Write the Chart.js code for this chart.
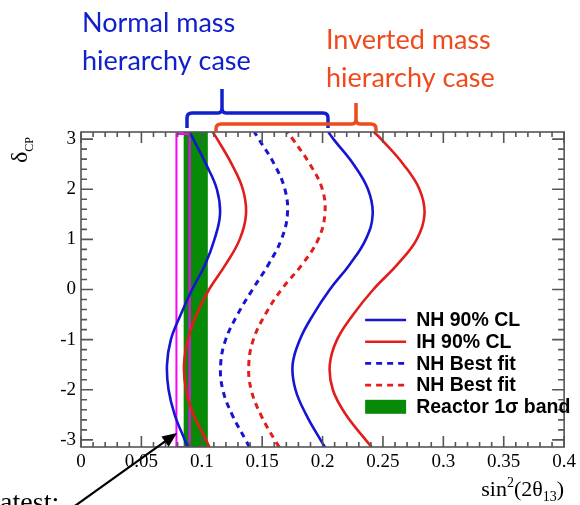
<!DOCTYPE html>
<html>
<head>
<meta charset="utf-8">
<script src="https://cdn.jsdelivr.net/npm/chart.js@4.4.0/dist/chart.umd.min.js"></script>
<style>
  body { margin: 0; background: #fff; }
  #wrap { position: relative; width: 580px; height: 505px; }
</style>
</head>
<body>
<div id="wrap"><canvas id="sensChart" width="580" height="505"></canvas></div>
<script>
const PI = Math.PI;

// delta_CP sample points (rad), bottom to top
const deltaCP = [-PI, -3, -2.5, -2, -1.5, -1, -0.5, 0, 0.5, 1, 1.5, 2, 2.5, 3, PI];

// sin^2(2theta13) at each deltaCP
const nhLower = [0.0885, 0.0859, 0.0776, 0.0725, 0.0712, 0.0744, 0.0826, 0.0920, 0.1028, 0.1105, 0.1151, 0.1125, 0.1035, 0.0930, 0.0899];
const nhUpper = [0.2020, 0.1983, 0.1865, 0.1776, 0.1752, 0.1812, 0.1923, 0.2060, 0.2225, 0.2358, 0.2415, 0.2376, 0.2256, 0.2090, 0.2048];
const ihLower = [0.1064, 0.1035, 0.0932, 0.0869, 0.0853, 0.0885, 0.0957, 0.1060, 0.1198, 0.1314, 0.1366, 0.1340, 0.1248, 0.1128, 0.1091];
const ihUpper = [0.2406, 0.2357, 0.2194, 0.2085, 0.2060, 0.2120, 0.2254, 0.2420, 0.2620, 0.2780, 0.2844, 0.2802, 0.2668, 0.2485, 0.2425];
const nhBest  = [0.1394, 0.1363, 0.1252, 0.1174, 0.1156, 0.1198, 0.1296, 0.1420, 0.1552, 0.1659, 0.1709, 0.1688, 0.1600, 0.1472, 0.1435];
const ihBest  = [0.1641, 0.1603, 0.1489, 0.1409, 0.1389, 0.1427, 0.1525, 0.1660, 0.1831, 0.1964, 0.2019, 0.1998, 0.1895, 0.1753, 0.1710];

// reactor 1 sigma band and the latest reactor value box (sin^2 range, deltaCP range)
const reactorBand = [0.085, 0.105];
const latestBox = [0.079, 0.090];
const latestDelta = [-PI, 3.1];

// axis ticks
const xTickValues = [0, 0.05, 0.1, 0.15, 0.2, 0.25, 0.3, 0.35, 0.4];
const xTickLabels = ['0', '0.05', '0.1', '0.15', '0.2', '0.25', '0.3', '0.35', '0.4'];
const yTickValues = [-3, -2, -1, 0, 1, 2, 3];
const yTickLabels = ['-3', '-2', '-1', '0', '1', '2', '3'];

const legendLabels = ['NH 90% CL', 'IH 90% CL', 'NH Best fit', 'NH Best fit', 'Reactor 1\u03c3 band'];

const BLUE = '#1515d2';
const RED = '#e31c1c';
const GREEN = '#078a07';
const MAGENTA = '#ff00ff';
const ANN_BLUE = '#1020cc';
const ANN_RED = '#f04a1c';

function curve(label, xs, color, dash, order) {
    return {
        label: label,
        data: xs.map((v, i) => ({ x: v, y: deltaCP[i] })),
        showLine: true,
        borderColor: color,
        borderWidth: dash.length ? 3 : 2.6,
        borderDash: dash,
        pointRadius: 0,
        tension: 0.4,
        fill: false,
        order: order
    };
}

function box(label, xr, yr, opts) {
    return Object.assign({
        label: label,
        data: [
            { x: xr[0], y: yr[0] }, { x: xr[1], y: yr[0] },
            { x: xr[1], y: yr[1] }, { x: xr[0], y: yr[1] },
            { x: xr[0], y: yr[0] }
        ],
        showLine: true,
        pointRadius: 0,
        tension: 0
    }, opts);
}

const overlay = {
    id: 'overlay',
    afterDraw(chart) {
        const ctx = chart.ctx;
        const a = chart.chartArea;
        const xs = chart.scales.x;
        const ys = chart.scales.y;
        ctx.save();

        // frame with inward ticks on all four sides
        ctx.strokeStyle = '#555';
        ctx.lineWidth = 1.6;
        ctx.strokeRect(a.left, a.top, a.right - a.left, a.bottom - a.top);
        ctx.beginPath();
        for (let i = 0; i <= 40; i++) {
            const px = xs.getPixelForValue(i / 100);
            const len = i % 5 === 0 ? 11 : 5;
            ctx.moveTo(px, a.bottom); ctx.lineTo(px, a.bottom - len);
            ctx.moveTo(px, a.top); ctx.lineTo(px, a.top + len);
        }
        for (let i = -15; i <= 15; i++) {
            const py = ys.getPixelForValue(i / 5);
            const len = i % 5 === 0 ? 12 : 6;
            ctx.moveTo(a.left, py); ctx.lineTo(a.left + len, py);
            ctx.moveTo(a.right, py); ctx.lineTo(a.right - len, py);
        }
        ctx.stroke();

        // legend
        const lx = a.right - 199, tx = a.right - 148;
        const styles = [
            { c: BLUE, d: [] }, { c: RED, d: [] },
            { c: BLUE, d: [6, 5] }, { c: RED, d: [6, 5] }, { c: GREEN, box: true }
        ];
        ctx.font = 'bold 19.5px "Liberation Sans", Arial, sans-serif';
        ctx.textBaseline = 'middle';
        ctx.textAlign = 'left';
        legendLabels.forEach((t, i) => {
            const ly = 320 + i * 21.7;
            const s = styles[i];
            if (s.box) {
                ctx.fillStyle = s.c;
                ctx.fillRect(lx, ly - 7, 41, 14);
            } else {
                ctx.strokeStyle = s.c;
                ctx.lineWidth = 2.6;
                ctx.setLineDash(s.d);
                ctx.beginPath(); ctx.moveTo(lx, ly); ctx.lineTo(lx + 41, ly); ctx.stroke();
                ctx.setLineDash([]);
            }
            ctx.fillStyle = '#000';
            ctx.fillText(t, tx, ly + 1);
        });

        // axis titles
        ctx.textBaseline = 'alphabetic';
        ctx.fillStyle = '#000';
        ctx.save();
        ctx.translate(27, 163);
        ctx.rotate(-PI / 2);
        ctx.font = '24px "Liberation Serif", serif';
        ctx.fillText('\u03b4', 0, 0);
        const dw = ctx.measureText('\u03b4').width;
        ctx.font = '12px "Liberation Serif", serif';
        ctx.fillText('CP', dw, 6);
        ctx.restore();

        const parts = [
            { t: 'sin', f: 22, dy: 0 }, { t: '2', f: 14, dy: -9 },
            { t: '(2\u03b8', f: 22, dy: 0 }, { t: '13', f: 14, dy: 5 }, { t: ')', f: 22, dy: 0 }
        ];
        let total = 0;
        parts.forEach(p => { ctx.font = p.f + 'px "Liberation Serif", serif'; p.w = ctx.measureText(p.t).width; total += p.w; });
        let cx = a.right - total;
        parts.forEach(p => { ctx.font = p.f + 'px "Liberation Serif", serif'; ctx.fillText(p.t, cx, 496 + p.dy); cx += p.w; });

        // hierarchy annotations
        ctx.font = '27px Lato, "Open Sans", sans-serif';
        ctx.fillStyle = ANN_BLUE;
        ctx.fillText('Normal mass', 82, 32);
        ctx.fillText('hierarchy case', 82, 70);
        ctx.fillStyle = ANN_RED;
        ctx.fillText('Inverted mass', 326, 49);
        ctx.fillText('hierarchy case', 326, 87);

        // brackets
        function bracket(x0, x1, xm, yh, yb, yp, color) {
            ctx.strokeStyle = color;
            ctx.lineWidth = 3.5;
            ctx.lineJoin = 'round';
            ctx.beginPath();
            ctx.moveTo(x0, yb);
            ctx.lineTo(x0, yh + 5);
            ctx.quadraticCurveTo(x0, yh, x0 + 5, yh);
            ctx.lineTo(xm - 4, yh);
            ctx.quadraticCurveTo(xm, yh, xm, yh - 5);
            ctx.lineTo(xm, yp);
            ctx.moveTo(xm, yh - 5);
            ctx.quadraticCurveTo(xm, yh, xm + 4, yh);
            ctx.lineTo(x1 - 5, yh);
            ctx.quadraticCurveTo(x1, yh, x1, yh + 5);
            ctx.lineTo(x1, yb);
            ctx.stroke();
        }
        bracket(187, 328, 222, 113, 128, 89, ANN_BLUE);
        bracket(216, 376, 356, 124, 131, 103, ANN_RED);

        // "Latest" arrow
        ctx.fillStyle = '#000';
        ctx.font = '28px "Liberation Serif", serif';
        ctx.fillText('Latest:', -17, 511);
        const ax0 = 72, ay0 = 508, ax1 = 177, ay1 = 433;
        const ang = Math.atan2(ay1 - ay0, ax1 - ax0);
        ctx.strokeStyle = '#000';
        ctx.lineWidth = 2.2;
        ctx.beginPath();
        ctx.moveTo(ax0, ay0);
        ctx.lineTo(ax1 - 12 * Math.cos(ang), ay1 - 12 * Math.sin(ang));
        ctx.stroke();
        ctx.beginPath();
        ctx.moveTo(ax1, ay1);
        ctx.lineTo(ax1 - 16 * Math.cos(ang - 0.4), ay1 - 16 * Math.sin(ang - 0.4));
        ctx.lineTo(ax1 - 16 * Math.cos(ang + 0.4), ay1 - 16 * Math.sin(ang + 0.4));
        ctx.closePath();
        ctx.fill();

        ctx.restore();
    }
};

const tickFont = { family: '"Liberation Serif", "Times New Roman", serif', size: 19 };

new Chart(document.getElementById('sensChart'), {
    type: 'scatter',
    data: {
        datasets: [
            curve('NH 90% CL', nhLower, BLUE, [], 1),
            curve('NH 90% CL', nhUpper, BLUE, [], 1),
            curve('IH 90% CL', ihLower, RED, [], 1),
            curve('IH 90% CL', ihUpper, RED, [], 1),
            curve('NH Best fit', nhBest, BLUE, [6, 5], 1),
            curve('NH Best fit', ihBest, RED, [6, 5], 1),
            box('Latest', latestBox, latestDelta, { borderColor: MAGENTA, borderWidth: 2, fill: false, order: 2 }),
            box('Reactor 1\u03c3 band', reactorBand, [-PI, PI], { borderWidth: 0, borderColor: GREEN, backgroundColor: GREEN, fill: 'shape', order: 3 })
        ]
    },
    options: {
        responsive: false,
        animation: false,
        events: [],
        layout: { padding: { left: 0, right: 14, top: 132, bottom: 0 } },
        plugins: { legend: { display: false }, tooltip: { enabled: false } },
        scales: {
            x: {
                type: 'linear', min: 0, max: 0.4,
                grid: { display: false, drawTicks: false },
                border: { display: false },
                afterBuildTicks: s => { s.ticks = xTickValues.map(v => ({ value: v })); },
                afterFit: s => { s.height = 58; },
                ticks: {
                    padding: 4, color: '#000', font: tickFont, maxRotation: 0,
                    callback: (v) => xTickLabels[xTickValues.indexOf(v)]
                }
            },
            y: {
                type: 'linear', min: -PI, max: PI,
                grid: { display: false, drawTicks: false },
                border: { display: false },
                afterBuildTicks: s => { s.ticks = yTickValues.map(v => ({ value: v })); },
                afterFit: s => { s.width = 81; },
                ticks: {
                    padding: 5, color: '#000', font: tickFont,
                    callback: (v) => yTickLabels[yTickValues.indexOf(v)]
                }
            }
        }
    },
    plugins: [overlay]
});
</script>
</body>
</html>
